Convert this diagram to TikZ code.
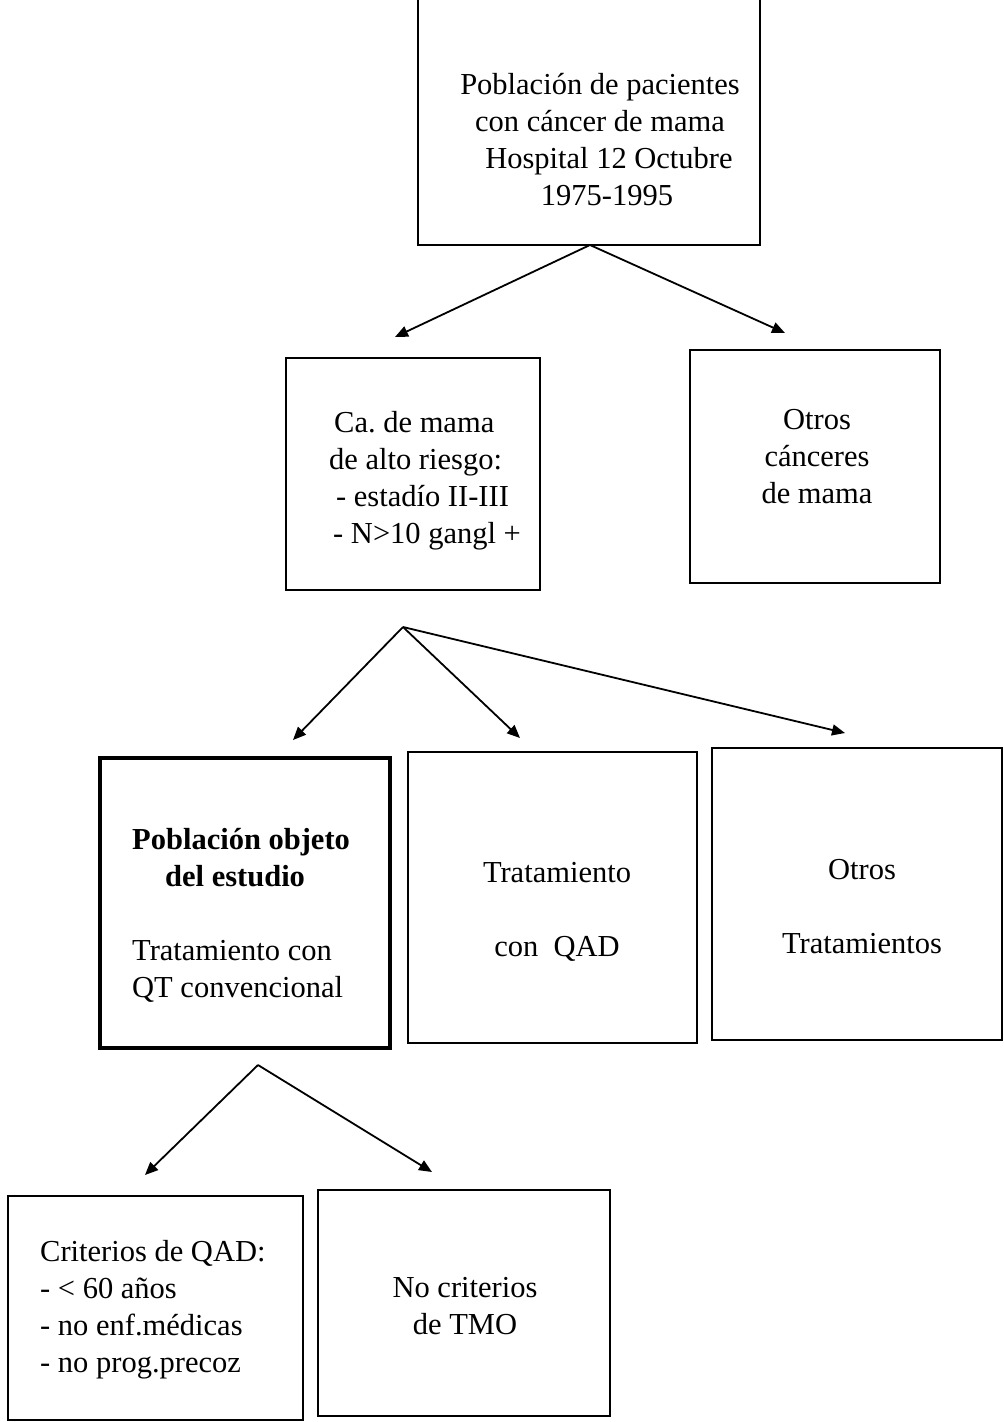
\documentclass[tikz,border=0pt]{standalone}
\usepackage{fontspec}
\setmainfont{Liberation Serif}
\usetikzlibrary{arrows.meta}
\frenchspacing
\begin{document}
\begin{tikzpicture}[x=1pt,y=-1pt,
  box/.style={draw, line width=1.6pt, inner sep=0pt},
  thickbox/.style={draw, line width=4.5pt, inner sep=0pt},
  txt/.style={align=center, font=\fontsize{30.5}{37}\selectfont\frenchspacing, inner sep=0pt},
  arr/.style={line width=1.8pt, -{Triangle[length=13pt,width=11pt]}}]
\useasboundingbox (0,0) rectangle (1004,1422);
% boxes
\node[box, minimum width=342pt, minimum height=250pt] (top) at (589,120) {};
\node[box, minimum width=254pt, minimum height=232pt] (ca) at (413,474) {};
\node[box, minimum width=250pt, minimum height=233pt] (otros) at (815,466.5) {};
\node[thickbox, minimum width=290pt, minimum height=290pt] (pob) at (245,903) {};
\node[box, minimum width=289pt, minimum height=291pt] (qad) at (552.5,897.5) {};
\node[box, minimum width=290pt, minimum height=292pt] (otrt) at (857,894) {};
\node[box, minimum width=295pt, minimum height=224pt] (crit) at (155.5,1308) {};
\node[box, minimum width=292pt, minimum height=226pt] (nocrit) at (464,1303) {};
% texts
\node[txt] (topT) at (600,140) {Población de pacientes\\con cáncer de mama\hspace*{10pt}\\\hspace*{18pt}Hospital 12 Octubre\\\hspace*{14pt}1975-1995};
\node[txt, align=left, anchor=west] (caT) at (329,481) {\hspace*{5pt}Ca. de mama\\de alto riesgo:\\\hspace*{7pt}- estadío II-III\\\hspace*{4pt}- N>10 gangl +};
\node[txt] (otrosT) at (817,457) {Otros\\cánceres\\de mama};
\node[txt, align=left, anchor=west] (pobT) at (132,915) {\textbf{Población objeto}\\\hspace*{33pt}\textbf{del estudio}\\[37pt]Tratamiento con\\QT convencional};
\node[txt] (qadT) at (557,912) {Tratamiento\\[37pt]con\ \ QAD};
\node[txt] (otrtT) at (862,907) {Otros\\[37pt]Tratamientos};
\node[txt, align=left, anchor=west] (critT) at (40,1310) {Criterios de QAD:\\- < 60 años\\- no enf.médicas\\- no prog.precoz};
\node[txt] (nocritT) at (465,1306) {No criterios\\de TMO};
% connector points
\coordinate (p1) at (590,245);
\coordinate (t1a) at (395,337);
\coordinate (t1b) at (785,333);
\coordinate (p2) at (403,627);
\coordinate (t2a) at (293,740);
\coordinate (t2b) at (520,738);
\coordinate (t2c) at (845,733);
\coordinate (p3) at (258,1065);
\coordinate (t3a) at (145,1175);
\coordinate (t3b) at (432,1172);
\draw[arr] (p1) -- (t1a);
\draw[arr] (p1) -- (t1b);
\draw[arr] (p2) -- (t2a);
\draw[arr] (p2) -- (t2b);
\draw[arr] (p2) -- (t2c);
\draw[arr] (p3) -- (t3a);
\draw[arr] (p3) -- (t3b);
\end{tikzpicture}
\end{document}
